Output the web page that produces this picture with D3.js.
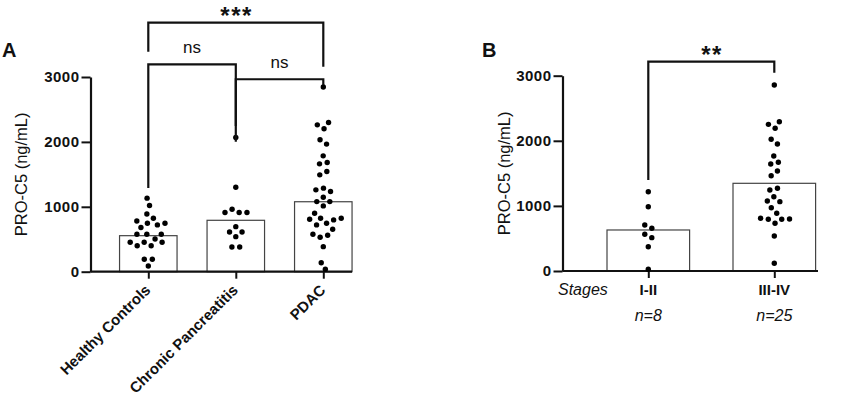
<!DOCTYPE html>
<html>
<head>
<meta charset="utf-8">
<script src="https://cdn.jsdelivr.net/npm/d3@7"></script>
<style>
  body { margin: 0; background: #fff; }
  text { font-family: "Liberation Sans", Arial, sans-serif; fill: #111; }
</style>
</head>
<body>
<script>
// ---- data ----
const groupsA = ["Healthy Controls", "Chronic Pancreatitis", "PDAC"];
const barsA = [555, 792, 1078];
const healthyValues = [1133, 1019, 890, 824, 782, 747, 747, 721, 680, 577, 577, 577, 505, 454, 454, 454, 401, 401, 191, 191, 88];
const pancreatitisValues = [2068, 1302, 963, 913, 913, 913, 694, 612, 612, 540, 380, 380];
const pdacValues = [2846, 2300, 2263, 2202, 2032, 1966, 1785, 1682, 1662, 1543, 1492, 1287, 1261, 1235, 1148,
  1080, 1080, 1014, 901, 824, 808, 798, 824, 747, 721, 654, 577, 562, 531, 386, 139, 37];

const groupsB = ["I-II", "III-IV"];
const barsB = [630, 1347];
const stage12Values = [1218, 988, 707, 656, 564, 512, 373, 26];
const stage34Values = [2857, 2293, 2253, 2192, 2023, 1951, 1767, 1670, 1644, 1536, 1464, 1270, 1244, 1141,
  1075, 1065, 972, 886, 810, 799, 794, 794, 733, 538, 118];
const nLabelsB = ["n=8", "n=25"];

const yTicks = [0, 1000, 2000, 3000];

// significance brackets, heights in ng/mL
const bracketsA = [
  { from: 0, to: 2, label: "***", top: 3837, leftEnd: 3390, rightEnd: 3159 },
  { from: 0, to: 1, label: "ns", top: 3196, leftEnd: 1290, rightEnd: 2245 },
  { from: 1, to: 2, label: "ns", top: 2965, leftEnd: 2003, rightEnd: 2877 }
];
const bracketsB = [
  { from: 0, to: 1, label: "**", top: 3215, leftEnd: 1398, rightEnd: 3046 }
];

const svg = d3.select("body").append("svg")
  .attr("width", 865)
  .attr("height", 397);

// simple beeswarm: y fixed on value, x pushed apart by collision
function swarm(values, cx, y) {
  const nodes = values.map((v, i) => ({ v, x: cx + (i % 2 ? 0.3 : -0.3), y: y(v), fy: y(v) }));
  const sim = d3.forceSimulation(nodes)
    .force("x", d3.forceX(cx).strength(0.08))
    .force("collide", d3.forceCollide(3.9))
    .stop();
  for (let i = 0; i < 300; i++) sim.tick();
  return nodes;
}

function drawPanel(g, o) {
  const y = d3.scaleLinear().domain([0, 3000]).range(o.yRange);
  const x = d3.scalePoint().domain(o.groups).range(o.xRange);

  // bars
  g.append("g").selectAll("rect")
    .data(o.groups)
    .join("rect")
    .attr("x", d => x(d) - o.barWidth / 2)
    .attr("y", (d, i) => y(o.bars[i]))
    .attr("width", o.barWidth)
    .attr("height", (d, i) => y(0) - y(o.bars[i]))
    .attr("fill", "#fff")
    .attr("stroke", "#444")
    .attr("stroke-width", 1.2);

  // y axis
  const yAxis = g.append("g")
    .attr("transform", `translate(${o.axisX},0)`)
    .call(d3.axisLeft(y).tickValues(yTicks).tickFormat(d3.format("d")).tickSize(9).tickSizeOuter(0).tickPadding(2));
  yAxis.select(".domain").attr("stroke", "#111").attr("stroke-width", 2.2);
  yAxis.selectAll(".tick line").attr("stroke", "#111").attr("stroke-width", 2);
  yAxis.selectAll(".tick text")
    .attr("fill", "#111")
    .style("font-family", "'Liberation Sans', Arial, sans-serif")
    .style("font-size", "15px")
    .style("font-weight", "bold")
    .style("letter-spacing", "0.5px");

  // x axis baseline + ticks
  g.append("line")
    .attr("x1", o.axisX).attr("x2", o.axisEnd)
    .attr("y1", y(0)).attr("y2", y(0))
    .attr("stroke", "#111").attr("stroke-width", 2.2);
  const xAxis = g.append("g")
    .attr("transform", `translate(0,${y(0)})`)
    .call(d3.axisBottom(x).tickSize(7).tickFormat(""));
  xAxis.select(".domain").remove();
  xAxis.selectAll(".tick line").attr("stroke", "#111").attr("stroke-width", 2);

  // points
  o.values.forEach((vals, i) => {
    g.append("g").selectAll("circle")
      .data(swarm(vals, x(o.groups[i]), y))
      .join("circle")
      .attr("cx", d => d.x)
      .attr("cy", d => d.y)
      .attr("r", 2.7)
      .attr("fill", "#000");
  });

  // brackets
  const br = g.append("g").selectAll("g").data(o.brackets).join("g");
  br.append("path")
    .attr("d", d => {
      const x1 = x(o.groups[d.from]), x2 = x(o.groups[d.to]);
      return `M${x1},${y(d.leftEnd)}V${y(d.top)}H${x2}V${y(d.rightEnd)}`;
    })
    .attr("fill", "none")
    .attr("stroke", "#111")
    .attr("stroke-width", 2.2);
  br.append("text")
    .attr("x", d => (x(o.groups[d.from]) + x(o.groups[d.to])) / 2 + (d.label.startsWith("*") ? 0.8 : 0))
    .attr("y", d => d.label.startsWith("*") ? y(d.top) + 1 : y(d.top) - 11)
    .attr("text-anchor", "middle")
    .style("font-size", d => d.label.startsWith("*") ? "24px" : "17px")
    .style("font-weight", d => d.label.startsWith("*") ? "bold" : "normal")
    .style("letter-spacing", d => d.label.startsWith("*") ? "1.5px" : null)
    .text(d => d.label);

  // y title
  g.append("text")
    .attr("transform", `translate(${o.titleX},${(o.yRange[0] + o.yRange[1]) / 2}) rotate(-90)`)
    .attr("text-anchor", "middle")
    .style("font-size", "16.5px")
    .text("PRO-C5 (ng/mL)");

  // panel letter
  g.append("text")
    .attr("x", o.letterX).attr("y", 57)
    .style("font-size", "20px")
    .style("font-weight", "bold")
    .text(o.letter);

  return { x, y };
}

const a = drawPanel(svg.append("g"), {
  groups: groupsA, bars: barsA,
  values: [healthyValues, pancreatitisValues, pdacValues],
  brackets: bracketsA,
  yRange: [271.7, 77], xRange: [148.3, 323.3],
  axisX: 90.5, axisEnd: 352, barWidth: 57.5,
  titleX: 27, letter: "A", letterX: 2
});

svg.append("g").selectAll("text")
  .data(groupsA)
  .join("text")
  .attr("transform", d => `translate(${a.x(d) + 3},291) rotate(-45)`)
  .attr("text-anchor", "end")
  .style("font-size", "15px")
  .style("font-weight", "bold")
  .text(d => d);

const b = drawPanel(svg.append("g"), {
  groups: groupsB, bars: barsB,
  values: [stage12Values, stage34Values],
  brackets: bracketsB,
  yRange: [271, 75.7], xRange: [648.3, 774.3],
  axisX: 562.5, axisEnd: 818, barWidth: 82.6,
  titleX: 510, letter: "B", letterX: 482
});

const gb = svg.append("g");
gb.append("text")
  .attr("x", 558).attr("y", 295)
  .style("font-size", "16px")
  .style("font-style", "italic")
  .text("Stages");
gb.selectAll(".stage")
  .data(groupsB)
  .join("text")
  .attr("class", "stage")
  .attr("x", d => b.x(d)).attr("y", 295)
  .attr("text-anchor", "middle")
  .style("font-size", "15px")
  .style("font-weight", "bold")
  .text(d => d);
gb.selectAll(".nlab")
  .data(groupsB)
  .join("text")
  .attr("class", "nlab")
  .attr("x", d => b.x(d)).attr("y", 321)
  .attr("text-anchor", "middle")
  .style("font-size", "16px")
  .style("font-style", "italic")
  .text((d, i) => nLabelsB[i]);
</script>
</body>
</html>
